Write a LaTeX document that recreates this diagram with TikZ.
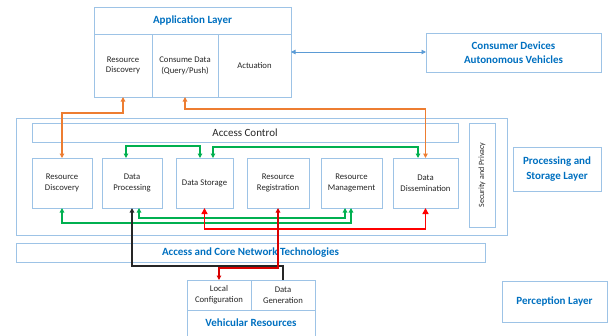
\documentclass[tikz,border=0pt]{standalone}
\usepackage{fontspec}
\setmainfont{Carlito}
\usetikzlibrary{arrows.meta}
\definecolor{bx}{HTML}{9DC3E6}
\definecolor{tb}{HTML}{0070C0}
\definecolor{og}{HTML}{ED7D31}
\definecolor{gr}{HTML}{00B050}
\definecolor{rd}{HTML}{FF0000}
\definecolor{ab}{HTML}{5B9BD5}
\definecolor{tx}{HTML}{262626}
\begin{document}
\begin{tikzpicture}[x=1pt,y=-1pt,
 bxs/.style={draw=bx,line width=0.8pt,inner sep=0pt,outer sep=0pt,align=center,text=tx},
 sm/.style={font=\fontsize{8.7}{10.8}\selectfont},
 ttl/.style={font=\fontsize{11}{14.5}\selectfont\bfseries,text=tb},
 tip/.tip={Triangle[length=4.5pt,width=4.5pt]},
 bigtip/.tip={Triangle[length=6pt,width=6pt]},
 con/.style={line width=1.1pt,tip-tip},
 conr/.style={line width=1.4pt,bigtip-bigtip},
]
\useasboundingbox (0,0) rectangle (610,335);
% Application layer
\node[bxs,ttl,minimum width=197pt,minimum height=27pt] (atl) at (192.5,20.5) {Application Layer};
\node[bxs,sm,minimum width=58pt,minimum height=63pt] (aRD) at (123,65.5) {Resource\\Discovery};
\node[bxs,sm,minimum width=66pt,minimum height=63pt] (aCD) at (185,65.5) {Consume Data\\(Query/Push)};
\node[bxs,sm,minimum width=73pt,minimum height=63pt] (aAc) at (254.5,65.5) {Actuation};
% Consumer
\node[bxs,ttl,minimum width=175pt,minimum height=39pt] (cons) at (513.5,52.5) {Consumer Devices\\Autonomous Vehicles};
% Processing
\node[bxs,minimum width=491pt,minimum height=117pt] (proc) at (261.5,176.5) {};
\node[bxs,font=\fontsize{11}{13}\selectfont,minimum width=426pt,minimum height=19pt] (ac) at (245,132.5) {Access Control};
\node[bxs,minimum width=26pt,minimum height=104pt] (sp) at (482,175) {};
\node[rotate=90,font=\fontsize{8}{10}\selectfont,text=tx] (spt) at (sp.center) {Security and Privacy};
\node[bxs,sm,minimum width=60pt,minimum height=50pt] (iRD) at (62,183) {Resource\\Discovery};
\node[bxs,sm,minimum width=60pt,minimum height=50pt] (iDP) at (132,183) {Data\\Processing};
\node[bxs,sm,minimum width=57pt,minimum height=50pt] (iDS) at (204.5,183) {Data Storage};
\node[bxs,sm,minimum width=62pt,minimum height=50pt] (iRR) at (278,183) {Resource\\Registration};
\node[bxs,sm,minimum width=61pt,minimum height=50pt] (iRM) at (351.5,183) {Resource\\Management};
\node[bxs,sm,minimum width=65pt,minimum height=50pt] (iDD) at (425.5,183) {Data\\Dissemination};
\node[bxs,ttl,minimum width=88pt,minimum height=44pt] (psl) at (557,169) {Processing and\\Storage Layer};
% Network
\node[bxs,ttl,minimum width=469pt,minimum height=19pt] (acn) at (250.5,252.5) {Access and Core Network Technologies};
% Vehicular
\node[bxs,sm,minimum width=64pt,minimum height=30pt] (LC) at (219,295) {Local\\Configuration};
\node[bxs,sm,minimum width=64pt,minimum height=30pt] (DG) at (283,295) {Data\\Generation};
\node[bxs,minimum width=128pt,minimum height=30pt] (VR) at (251,325) {};
\node[ttl] (vrt) at (251,323) {Vehicular Resources};
\node[bxs,ttl,minimum width=105pt,minimum height=41pt] (perc) at (554.5,301.5) {Perception Layer};
% connectors
\draw[ab,line width=0.9pt,tip-tip] (aAc.east |- 0,52) -- (cons.west |- 0,52);
\draw[con,og] (iRD.north) -- (62,113) -- (123,113) -- (aRD.south);
\draw[con,og] (aCD.south) -- (185,109) -- (425.5,109) -- (iDD.north);
\draw[con,gr] (iDP.north -| 126,0) -- (126,146) -- (200,146) -- (iDS.north -| 200,0);
\draw[con,gr] (iDS.north -| 213,0) -- (213,147) -- (418,147) -- (iDD.north -| 418,0);
\draw[con,gr] (iRD.south) -- (62,223) -- (351,223) -- (iRM.south -| 351,0);
\draw[con,gr] (iDP.south -| 139,0) -- (139,218) -- (345,218) -- (iRM.south -| 345,0);
\draw[conr,rd] (iDS.south) -- (204.5,229) -- (425.5,229) -- (iDD.south);
\draw[line width=1.2pt,black!85,tip-] (iDP.south) -- (132,266) -- (283,266) -- (DG.north);
\draw[line width=1.2pt,rd!85!black,tip-tip] (iRR.south) -- (278,268) -- (219,268) -- (LC.north);
\end{tikzpicture}
\end{document}
